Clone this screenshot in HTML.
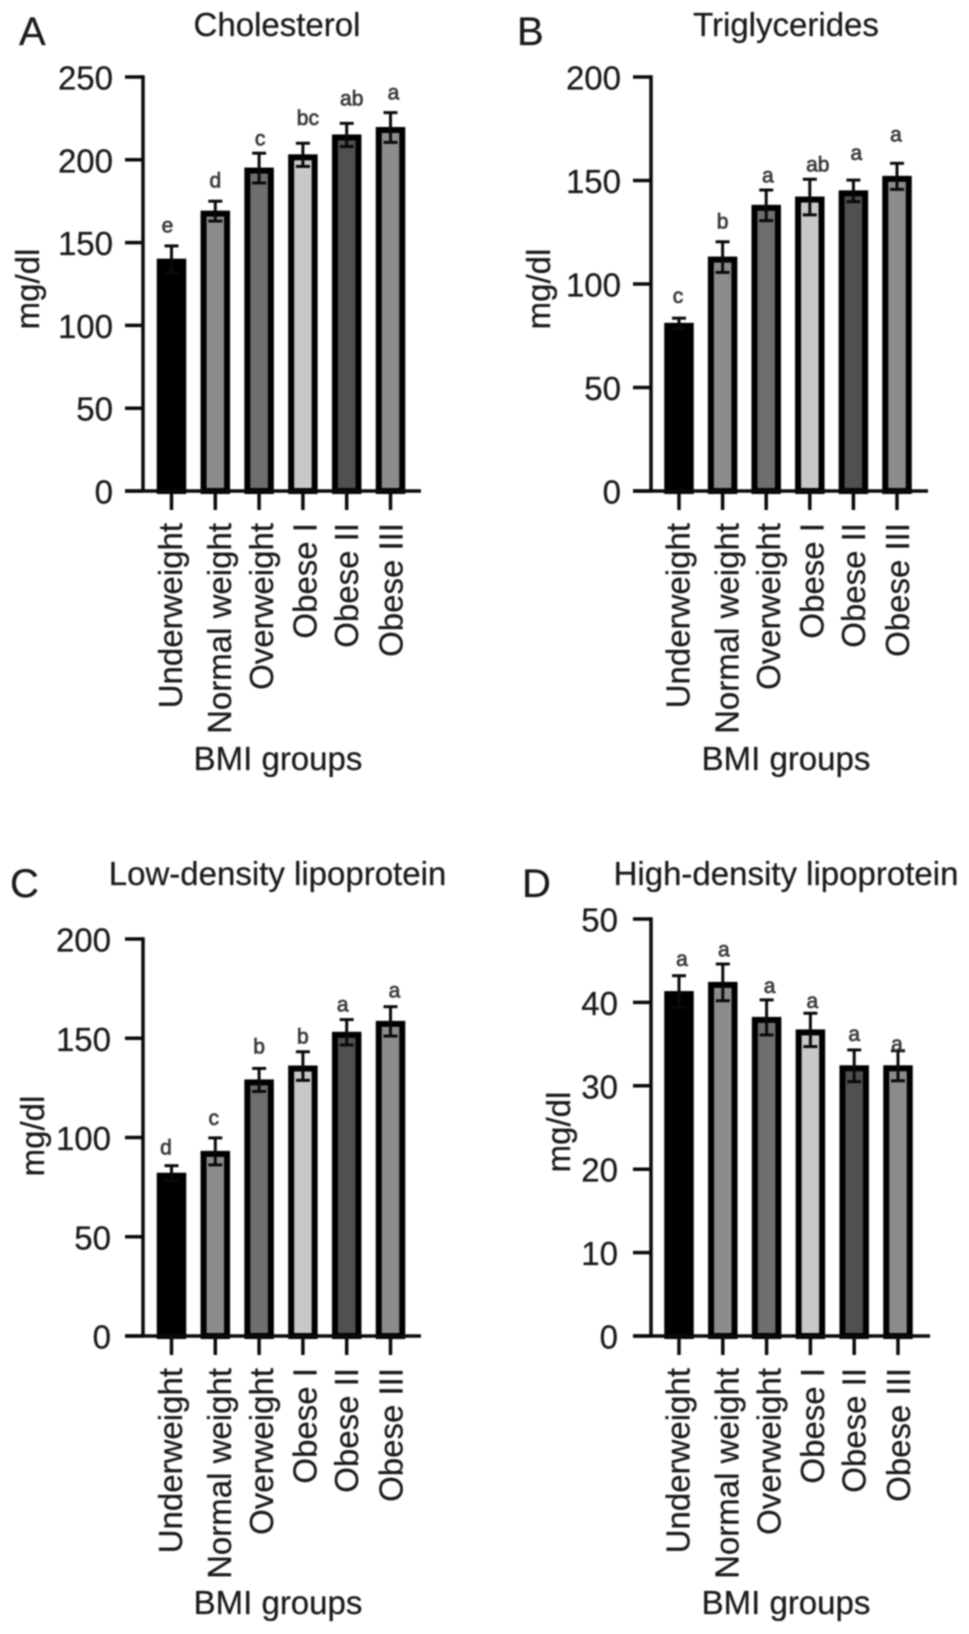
<!DOCTYPE html>
<html lang="en">
<head>
<meta charset="utf-8">
<title>Lipid profile by BMI group</title>
<style>
  html, body { margin: 0; padding: 0; background: #fff; }
  body { width: 969px; height: 1634px; overflow: hidden; }
  #figure { display: block; filter: blur(0.8px); }
  text { font-family: "Liberation Sans", sans-serif; fill: #1a1a1a; stroke: #1a1a1a; stroke-width: 0.25px; }
  .title, .axis-title, .tick-label, .category { font-size: 33px; }
  .panel-letter { font-size: 40px; }
  .sig { font-size: 21px; fill: #3a3a3a; text-anchor: middle; stroke: #3a3a3a; stroke-width: 0.7px; }
</style>
</head>
<body>
<svg id="figure" xmlns="http://www.w3.org/2000/svg" width="969" height="1634" viewBox="0 0 969 1634">
  <rect width="969" height="1634" fill="#fff"/>

  <text class="panel-letter" x="19" y="45">A</text>
  <text class="title" x="277" y="36" text-anchor="middle">Cholesterol</text>
  <text class="axis-title" transform="translate(39 289) rotate(-90)" text-anchor="middle">mg/dl</text>
  <text class="axis-title" x="278" y="770" text-anchor="middle">BMI groups</text>

  <text class="panel-letter" x="517" y="45">B</text>
  <text class="title" x="786" y="36" text-anchor="middle">Triglycerides</text>
  <text class="axis-title" transform="translate(550 289) rotate(-90)" text-anchor="middle">mg/dl</text>
  <text class="axis-title" x="786" y="770" text-anchor="middle">BMI groups</text>

  <text class="panel-letter" x="10" y="897">C</text>
  <text class="title" x="277.5" y="885" text-anchor="middle">Low-density lipoprotein</text>
  <text class="axis-title" transform="translate(44 1136) rotate(-90)" text-anchor="middle">mg/dl</text>
  <text class="axis-title" x="278" y="1614" text-anchor="middle">BMI groups</text>

  <text class="panel-letter" x="522" y="897">D</text>
  <text class="title" x="786" y="885" text-anchor="middle">High-density lipoprotein</text>
  <text class="axis-title" transform="translate(570 1132) rotate(-90)" text-anchor="middle">mg/dl</text>
  <text class="axis-title" x="786" y="1614" text-anchor="middle">BMI groups</text>
</svg>

<script>
// ---- Data ----
const categories = ["Underweight", "Normal weight", "Overweight", "Obese I", "Obese II", "Obese III"];

const cholesterolTicks = [0, 50, 100, 150, 200, 250];
const cholesterolMeans = [140, 169, 195, 203, 215, 219.5];
const cholesterolErrors = [8, 6, 9, 7, 7, 9];
const cholesterolLetters = ["e", "d", "c", "bc", "ab", "a"];

const triglycerideTicks = [0, 50, 100, 150, 200];
const triglycerideMeans = [81, 113, 138, 142, 145, 152];
const triglycerideErrors = [2.5, 7.4, 7.4, 8.6, 5.2, 6.3];
const triglycerideLetters = ["c", "b", "a", "ab", "a", "a"];

const ldlTicks = [0, 50, 100, 150, 200];
const ldlMeans = [82, 93, 129, 136, 153, 158.5];
const ldlErrors = [3.8, 6.8, 5.8, 7.2, 6.4, 7.4];
const ldlLetters = ["d", "c", "b", "b", "a", "a"];

const hdlTicks = [0, 10, 20, 30, 40, 50];
const hdlMeans = [41.3, 42.4, 38.2, 36.7, 32.4, 32.4];
const hdlErrors = [1.9, 2.2, 2.1, 2.0, 1.9, 1.8];
const hdlLetters = ["a", "a", "a", "a", "a", "a"];

// ---- Layout (separate from the data) ----
const barFills = ["#000000", "#8c8c8c", "#6e6e6e", "#c8c8c8", "#505050", "#8c8c8c"];
const categoryNudge = [10.5, 15.7, 14, 13.8, 11.5, 12];

const panels = [
  { means: cholesterolMeans, errors: cholesterolErrors, letters: cholesterolLetters, ticks: cholesterolTicks,
    axisX: 143, top: 77, base: 491, endX: 421, firstX: 171.5, stepX: 43.8, labelRight: 113,
    letterGap: [13.3, 13.6, 7.7, 18, 18, 13], letterDx: [-4, 0, 1, 5, 5, 3] },
  { means: triglycerideMeans, errors: triglycerideErrors, letters: triglycerideLetters, ticks: triglycerideTicks,
    axisX: 651, top: 77, base: 491, endX: 928, firstX: 679, stepX: 43.6, labelRight: 621,
    letterGap: [15, 13.4, 7.3, 8, 20, 21.6], letterDx: [-1, 0, 1.6, 8, 3, -1] },
  { means: ldlMeans, errors: ldlErrors, letters: ldlLetters, ticks: ldlTicks,
    axisX: 143, top: 939, base: 1336, endX: 421, firstX: 171.5, stepX: 43.8, labelRight: 111,
    letterGap: [11.3, 13, 15, 8.3, 8.3, 9], letterDx: [-5.5, -1.5, 0, 0, -4, 4] },
  { means: hdlMeans, errors: hdlErrors, letters: hdlLetters, ticks: hdlTicks,
    axisX: 651, top: 919, base: 1336, endX: 930, firstX: 679, stepX: 43.8, labelRight: 618,
    letterGap: [9.7, 7.7, 7, 5.3, 9, 0], letterDx: [3, 1, 3, 2, 0, -1] }
];

const SVG_NS = "http://www.w3.org/2000/svg";
const figure = document.getElementById("figure");

function make(tag, attrs, text) {
  const el = document.createElementNS(SVG_NS, tag);
  for (const key in attrs) {
    el.setAttribute(key, attrs[key]);
  }
  if (text !== undefined) {
    el.textContent = text;
  }
  figure.appendChild(el);
  return el;
}

function drawLine(x1, y1, x2, y2, width) {
  return make("line", { x1: x1, y1: y1, x2: x2, y2: y2, stroke: "#0a0a0a", "stroke-width": width });
}

panels.forEach(function (panel) {
  const axisMax = panel.ticks[panel.ticks.length - 1];
  const yScale = function (value) {
    return panel.base - (value / axisMax) * (panel.base - panel.top);
  };
  const xScale = function (index) {
    return panel.firstX + index * panel.stepX;
  };
  const barStroke = 6;
  const barOuterWidth = 29.5;

  // y axis, ticks and tick labels
  const yAxis = drawLine(panel.axisX, panel.top - 1.75, panel.axisX, panel.base, 3.5);
  
  

  panel.ticks.forEach(function (tick) {
    const y = yScale(tick);
    const tickMark = drawLine(panel.axisX - 18, y, panel.axisX, y, 3.5);
    
    

    const tickLabel = make("text", { class: "tick-label", x: panel.labelRight, y: y + 12.5, "text-anchor": "end" }, String(tick));
    
    
  });

  // bars, error bars, significance letters, x ticks and category labels
  categories.forEach(function (category, i) {
    const cx = xScale(i);
    const yMean = yScale(panel.means[i]);
    const yHigh = yScale(panel.means[i] + panel.errors[i]);
    const yLow = yScale(panel.means[i] - panel.errors[i]);

    const bar = make("rect", {
      x: cx - barOuterWidth / 2 + barStroke / 2,
      y: yMean + barStroke / 2 - 0.5,
      width: barOuterWidth - barStroke,
      height: panel.base - yMean - barStroke / 2 + 0.5,
      fill: barFills[i],
      stroke: "#000",
      "stroke-width": barStroke
    });
    
    

    const stem = drawLine(cx, yHigh, cx, yLow, 3);
    
    

    const capHigh = drawLine(cx - 7, yHigh, cx + 7, yHigh, 3);
    
    

    const capLow = drawLine(cx - 7, yLow, cx + 7, yLow, 3);
    
    

    const letter = make("text", {
      class: "sig",
      x: cx + panel.letterDx[i],
      y: yHigh - panel.letterGap[i]
    }, panel.letters[i]);
    
    

    const xTick = drawLine(cx, panel.base, cx, panel.base + 19, 3.5);
    
    

    const labelX = cx + categoryNudge[i];
    const labelY = panel.base + 32;
    const label = make("text", {
      class: "category",
      transform: "translate(" + labelX + " " + labelY + ") rotate(-90)",
      "text-anchor": "end"
    }, category);
    
    
  });

  // x axis drawn last so it sits over the bar bases
  const xAxis = drawLine(panel.axisX - 18, panel.base, panel.endX, panel.base, 3.5);
  
  
});
</script>
</body>
</html>
